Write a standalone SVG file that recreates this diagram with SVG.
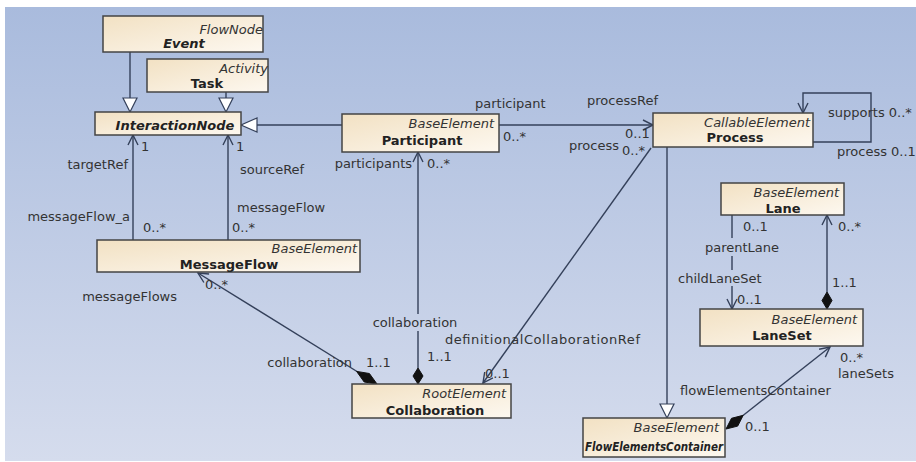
<svg xmlns="http://www.w3.org/2000/svg" width="916" height="462" viewBox="0 0 916 462">
<defs>
<linearGradient id="bg" x1="0" y1="0" x2="0" y2="1">
<stop offset="0" stop-color="#a9bbdd"/>
<stop offset="1" stop-color="#d5dced"/>
</linearGradient>
<linearGradient id="box" x1="0" y1="0" x2="1" y2="1">
<stop offset="0" stop-color="#f2e1c3"/>
<stop offset="1" stop-color="#fdf8f0"/>
</linearGradient>
<style>
.n rect{fill:url(#box);stroke:#444;stroke-width:1.5}
.st{font-family:"DejaVu Sans",sans-serif;font-size:13px;font-style:italic;fill:#333;text-anchor:end}
.nm{font-family:"DejaVu Sans",sans-serif;font-size:13px;font-weight:bold;fill:#222;text-anchor:middle}
.ab{font-style:italic}
.c line,.c path,.c polyline{stroke:#34405a;stroke-width:1.4;fill:none}
.c .tri{fill:#fff;stroke:#34405a;stroke-width:1.2}
.c .dia{fill:#111;stroke:#111;stroke-width:1}
.l{font-family:"DejaVu Sans",sans-serif;font-size:13px;fill:#333}
</style>
</defs>
<rect x="0" y="0" width="916" height="462" fill="#fff"/>
<rect x="5" y="7" width="911" height="454" fill="url(#bg)"/>

<g class="c" id="connectors">
<line x1="130" y1="52" x2="130" y2="98"/>
<polygon class="tri" points="123,98 137,98 130,112"/>
<line x1="226" y1="92" x2="226" y2="98"/>
<polygon class="tri" points="219,98 233,98 226,112"/>
<line x1="342" y1="125" x2="257" y2="125"/>
<polygon class="tri" points="257,118 257,132 241,125"/>
<line x1="133" y1="240" x2="133" y2="135"/>
<polyline points="128,145 133,135 138,145"/>
<line x1="228" y1="240" x2="228" y2="135"/>
<polyline points="223,145 228,135 233,145"/>
<line x1="499" y1="125" x2="653" y2="125"/>
<polyline points="643,120 653,125 643,130"/>
<polyline points="813,142 871,142 871,93 803,93 803,113"/>
<polyline points="798,103 803,113 808,103"/>
<line x1="651" y1="148" x2="483" y2="383"/>
<polyline points="492.9,377.8 483,383 484.7,372"/>
<line x1="418" y1="152" x2="418" y2="314"/>
<line x1="418" y1="331" x2="418" y2="368"/>
<polyline points="413,162 418,152 423,162"/>
<polygon class="dia" points="418,368 423,376 418,384 413,376"/>
<line x1="198" y1="273" x2="357" y2="371.5"/>
<polyline points="203.9,282.5 198,273 209.1,274"/>
<polygon class="dia" points="377,384 364.2,382 356.6,371.4 369.4,373.5"/>
<line x1="667" y1="147" x2="667" y2="404"/>
<polygon class="tri" points="660,404 674,404 667,418"/>
<line x1="732" y1="215" x2="732" y2="238"/>
<line x1="732" y1="256" x2="732" y2="270"/>
<line x1="732" y1="286" x2="732" y2="309"/>
<polyline points="727,299 732,309 737,299"/>
<line x1="827" y1="215" x2="827" y2="292"/>
<polyline points="822,225 827,215 832,225"/>
<polygon class="dia" points="827,292 832,300.5 827,309 822,300.5"/>
<line x1="830" y1="347" x2="743" y2="415.5"/>
<polyline points="819.1,349.3 830,347 825.3,357.1"/>
<polygon class="dia" points="726,429 737.7,426.1 743.2,415.3 731.5,418.3"/>
</g>

<g id="labels">
<text class="l" x="141" y="151">1</text>
<text class="l" x="236" y="151">1</text>
<text class="l" x="128" y="169" text-anchor="end">targetRef</text>
<text class="l" x="240" y="174">sourceRef</text>
<text class="l" x="130" y="221" text-anchor="end">messageFlow_a</text>
<text class="l" x="143" y="232">0..*</text>
<text class="l" x="237" y="212">messageFlow</text>
<text class="l" x="232" y="232">0..*</text>
<text class="l" x="177" y="301" text-anchor="end">messageFlows</text>
<text class="l" x="205" y="289">0..*</text>
<text class="l" x="352" y="367" text-anchor="end">collaboration</text>
<text class="l" x="366" y="367">1..1</text>
<text class="l" x="475" y="108">participant</text>
<text class="l" x="503" y="141">0..*</text>
<text class="l" x="587" y="105">processRef</text>
<text class="l" x="625" y="138">0..1</text>
<text class="l" x="619" y="150" text-anchor="end">process</text>
<text class="l" x="622" y="155">0..*</text>
<text class="l" x="412" y="168" text-anchor="end">participants</text>
<text class="l" x="427" y="168">0..*</text>
<text class="l" x="415" y="327" text-anchor="middle">collaboration</text>
<text class="l" x="427" y="361">1..1</text>
<text class="l" x="445" y="344" textLength="195">definitionalCollaborationRef</text>
<text class="l" x="485" y="378">0..1</text>
<text class="l" x="828" y="117">supports 0..*</text>
<text class="l" x="837" y="156">process 0..1</text>
<text class="l" x="743" y="231">0..1</text>
<text class="l" x="705" y="252">parentLane</text>
<text class="l" x="678" y="283">childLaneSet</text>
<text class="l" x="737" y="304">0..1</text>
<text class="l" x="838" y="231">0..*</text>
<text class="l" x="832" y="287">1..1</text>
<text class="l" x="840" y="362">0..*</text>
<text class="l" x="838" y="378">laneSets</text>
<text class="l" x="680" y="395">flowElementsContainer</text>
<text class="l" x="745" y="431">0..1</text>
</g>

<g class="n" id="Event"><rect x="103" y="16" width="160" height="36"/><text class="st" x="263" y="34">FlowNode</text><text class="nm ab" x="184" y="48">Event</text></g>
<g class="n" id="Task"><rect x="147" y="59" width="121" height="33"/><text class="st" x="268" y="73">Activity</text><text class="nm" x="207" y="88">Task</text></g>
<g class="n" id="InteractionNode"><rect x="95" y="112" width="146" height="23"/><text class="nm ab" x="175" y="130">InteractionNode</text></g>
<g class="n" id="MessageFlow"><rect x="97" y="240" width="263" height="32"/><text class="st" x="357" y="253">BaseElement</text><text class="nm" x="229" y="269">MessageFlow</text></g>
<g class="n" id="Participant"><rect x="342" y="114" width="157" height="38"/><text class="st" x="494" y="128">BaseElement</text><text class="nm" x="422" y="145">Participant</text></g>
<g class="n" id="Process"><rect x="653" y="113" width="160" height="34"/><text class="st" x="810" y="127">CallableElement</text><text class="nm" x="735" y="142">Process</text></g>
<g class="n" id="Lane"><rect x="721" y="183" width="123" height="32"/><text class="st" x="839" y="197">BaseElement</text><text class="nm" x="783" y="213">Lane</text></g>
<g class="n" id="LaneSet"><rect x="700" y="309" width="163" height="37"/><text class="st" x="857" y="324">BaseElement</text><text class="nm" x="782" y="340">LaneSet</text></g>
<g class="n" id="Collaboration"><rect x="352" y="384" width="159" height="34"/><text class="st" x="506" y="398">RootElement</text><text class="nm" x="435" y="415">Collaboration</text></g>
<g class="n" id="FlowElementsContainer"><rect x="583" y="418" width="142" height="39"/><text class="st" x="719" y="432">BaseElement</text><text class="nm ab" x="654" y="451" textLength="138" lengthAdjust="spacingAndGlyphs">FlowElementsContainer</text></g>
</svg>
